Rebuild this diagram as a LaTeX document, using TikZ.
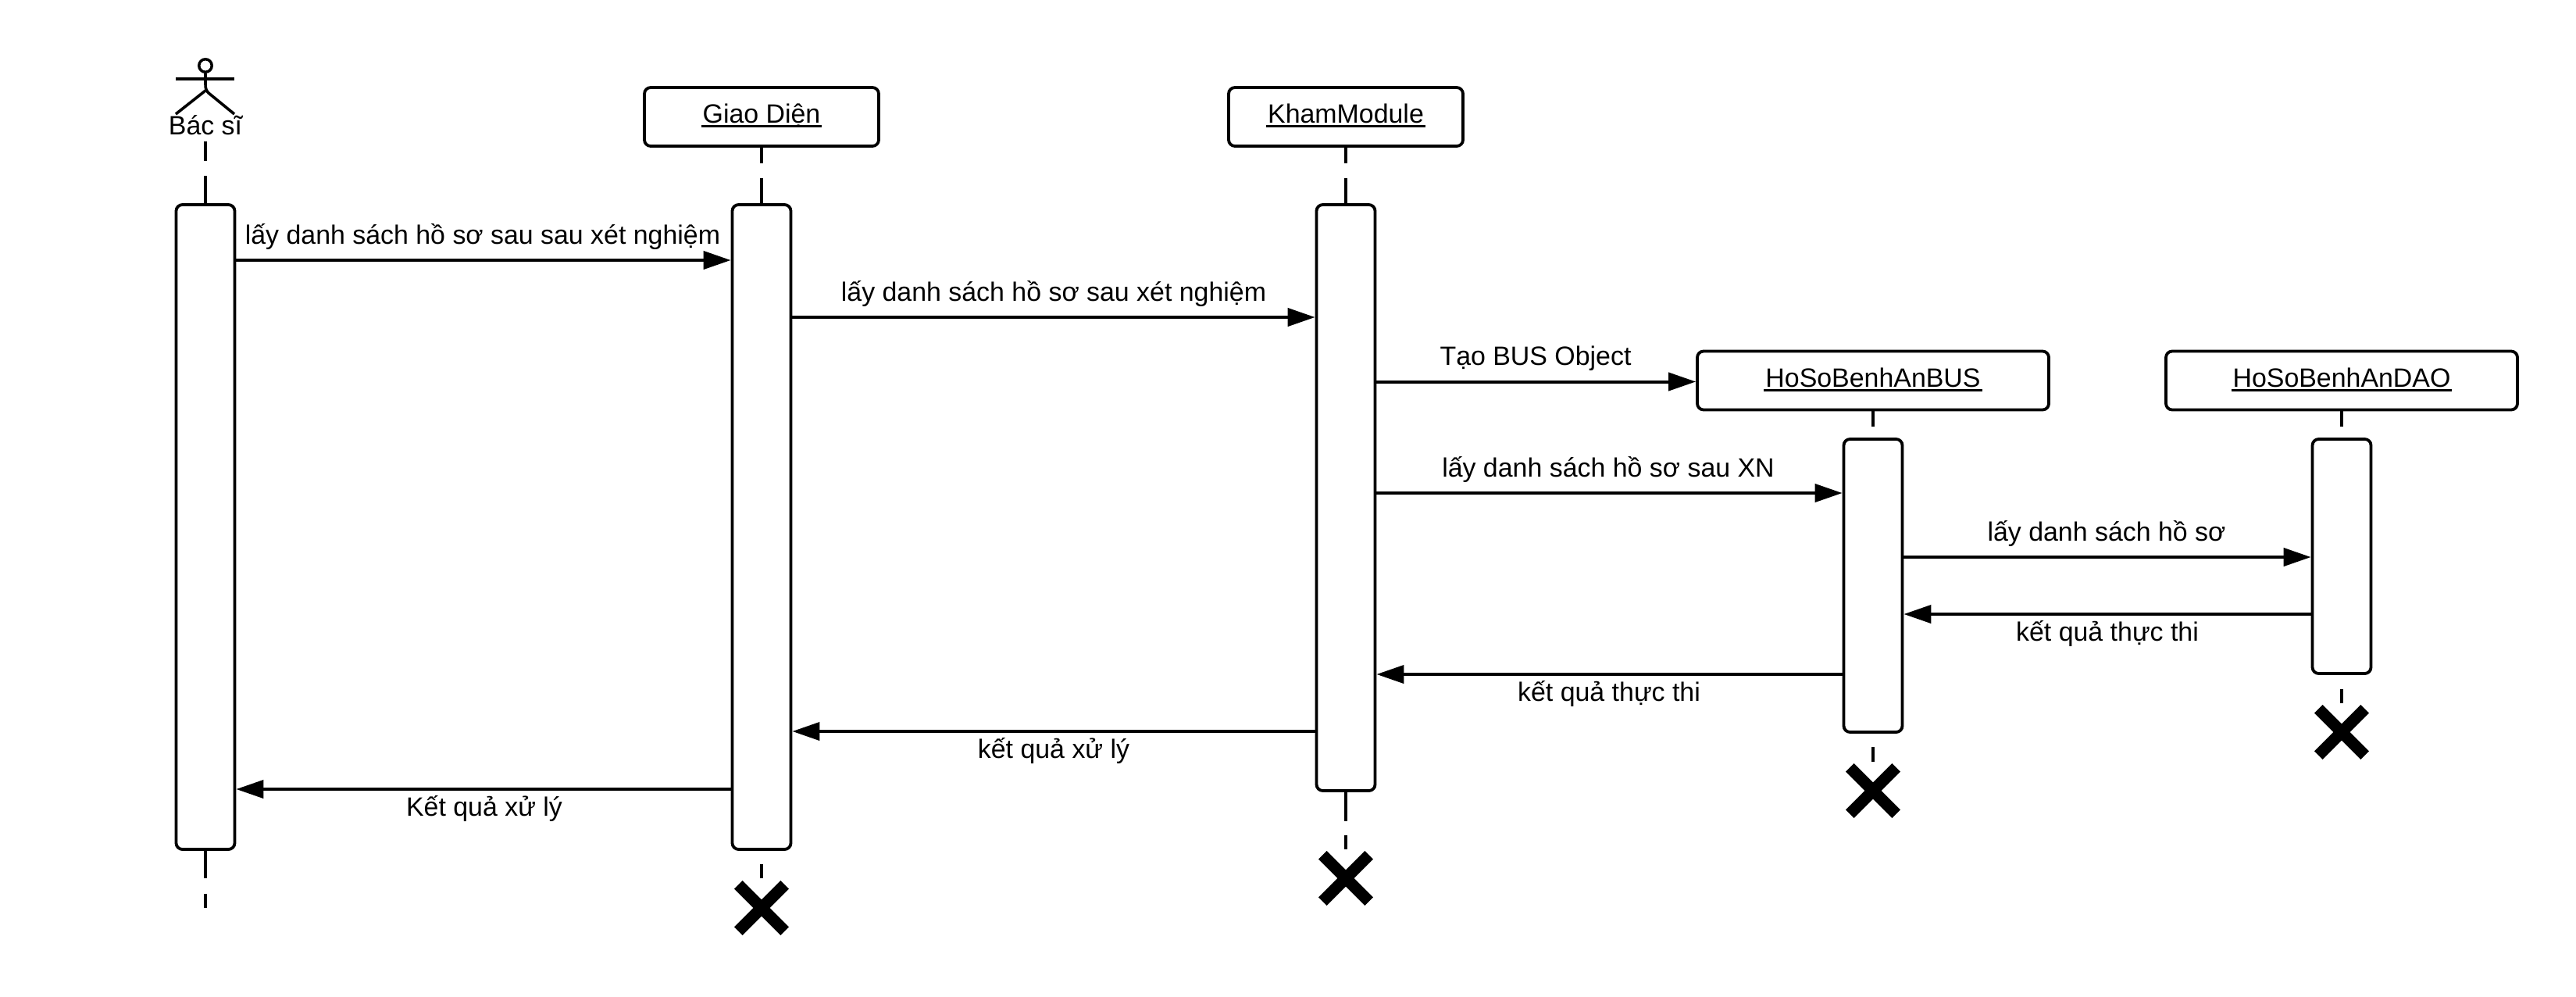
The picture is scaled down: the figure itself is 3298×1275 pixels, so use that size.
\documentclass[tikz,border=0pt]{standalone}
\usepackage{fontspec}
\setmainfont{Liberation Sans}
\usetikzlibrary{arrows.meta}
\newcommand\ulin[1]{\setbox0\hbox{#1}\rlap{\kern-2pt\vrule width\dimexpr\wd0+4pt\relax height -2.7pt depth 5.5pt}#1}
\tikzset{
  header/.style={draw=black,fill=white,line width=3.8pt,rounded corners=8pt,minimum width=300pt,minimum height=75pt,inner sep=0pt,text height=24pt,text depth=8pt,font=\fontsize{33.9pt}{38pt}\selectfont},
  bar/.style={draw=black,fill=white,line width=3.8pt,rounded corners=8pt,minimum width=75pt,inner sep=0pt},
  msg/.style={line width=4pt,-{Triangle[length=35pt,width=23pt]}},
  txt/.style={anchor=base,inner sep=0pt,font=\fontsize{33.9pt}{38pt}\selectfont},
  life/.style={line width=4pt},
  fig/.style={line width=3.6pt},
  killx/.style={line width=15pt},
}
\begin{document}
\begin{tikzpicture}[x=1pt,y=-1pt]
\useasboundingbox (0,0) rectangle (3298,1275);
\fill[white] (0,0) rectangle (3298,1275);
% bars
\node[bar,minimum height=825pt] (a1) at (263,674.5) {};
\node[bar,minimum height=825pt] (a2) at (975,674.5) {};
\node[bar,minimum height=750pt] (a3) at (1723,637) {};
\node[bar,minimum height=375pt] (a4) at (2398,749.5) {};
\node[bar,minimum height=300pt] (a5) at (2998,712) {};
% headers
\node[header] (h2) at (975,149.5) {\ulin{Giao Diện}};
\node[header] (h3) at (1723,149.5) {\ulin{KhamModule}};
\node[header,minimum width=450pt] (h4) at (2398,487) {\ulin{HoSoBenhAnBUS}};
\node[header,minimum width=450pt] (h5) at (2998,487) {\ulin{HoSoBenhAnDAO}};
% actor
\node[draw,circle,line width=3.5pt,minimum size=16.5pt,inner sep=0pt] (head) at (263,84) {};
\coordinate (armL) at (225,101);
\coordinate (armR) at (300,101);
\coordinate (hip) at (263,116);
\coordinate (hipb) at (267,119);
\coordinate (legL) at (225,146);
\coordinate (legR) at (300,146);
\draw[fig] (armL) -- (armR);
\draw[fig] (head) -- (263,108) .. controls (263,113) and (264,116) .. (hipb) -- (legR);
\draw[fig] (legL) -- (hip);
\node[txt] (actor) at (263,172.5) {Bác sĩ};
% kill points
\coordinate (k2) at (975,1162);
\coordinate (k3) at (1723,1124);
\coordinate (k4) at (2398,1012);
\coordinate (k5) at (2998,937);
\foreach \k in {k2,k3,k4,k5}{
  \draw[killx] ([shift={(-29.7,-29.7)}]\k) -- ([shift={(29.7,29.7)}]\k);
  \draw[killx] ([shift={(29.7,-29.7)}]\k) -- ([shift={(-29.7,29.7)}]\k);
}
% lifelines
\coordinate (a0top) at (263,181);
\coordinate (a0end) at (263,1162);
\draw[life,dash pattern=on 25pt off 19pt on 40pt] (a0top) -- (a1.north);
\draw[life,dash pattern=on 35pt off 20pt on 20pt] (a1.south) -- (a0end);
\draw[life,dash pattern=on 20pt off 19pt on 40pt] (h2.south) -- (a2.north);
\draw[life,dash pattern=on 20pt off 19pt on 40pt] (h3.south) -- (a3.north);
\draw[life,dash pattern=on 20pt off 40pt] (h4.south) -- (a4.north);
\draw[life,dash pattern=on 20pt off 40pt] (h5.south) -- (a5.north);
\coordinate (t2) at (975,1124);
\coordinate (t4) at (2398,975);
\coordinate (t5) at (2998,900);
\coordinate (t3) at (1723,1087);
\draw[life,dash pattern=on 18pt off 40pt] (t2) -- (a2.south);
\draw[life,dash pattern=on 37pt off 18pt on 30pt] (a3.south) -- (t3);
\draw[life,dash pattern=on 19pt off 40pt] (t4) -- (a4.south);
\draw[life,dash pattern=on 18pt off 40pt] (t5) -- (a5.south);
% messages
\draw[msg] (a1.east |- 0,333) -- (a2.west |- 0,333);
\draw[msg] (a2.east |- 0,406) -- (a3.west |- 0,406);
\draw[msg] (a3.east |- 0,488.5) -- (h4.west |- 0,488.5);
\draw[msg] (a3.east |- 0,631) -- (a4.west |- 0,631);
\draw[msg] (a4.east |- 0,713) -- (a5.west |- 0,713);
\draw[msg] (a5.west |- 0,786) -- (a4.east |- 0,786);
\draw[msg] (a4.west |- 0,863) -- (a3.east |- 0,863);
\draw[msg] (a3.west |- 0,936) -- (a2.east |- 0,936);
\draw[msg] (a2.west |- 0,1010) -- (a1.east |- 0,1010);
% labels
\node[txt] (l1) at (618,312.5) {lấy danh sách hồ sơ sau sau xét nghiệm};
\node[txt] (l2) at (1349,385.5) {lấy danh sách hồ sơ sau xét nghiệm};
\node[txt] (l3) at (1966,467) {Tạo BUS Object};
\node[txt] (l4) at (2059,610) {lấy danh sách hồ sơ sau XN};
\node[txt] (l5) at (2697,692) {lấy danh sách hồ sơ};
\node[txt] (l6) at (2698,820) {kết quả thực thi};
\node[txt] (l7) at (2060,897) {kết quả thực thi};
\node[txt] (l8) at (1349,970) {kết quả xử lý};
\node[txt] (l9) at (620,1044) {Kết quả xử lý};
\end{tikzpicture}
\end{document}
